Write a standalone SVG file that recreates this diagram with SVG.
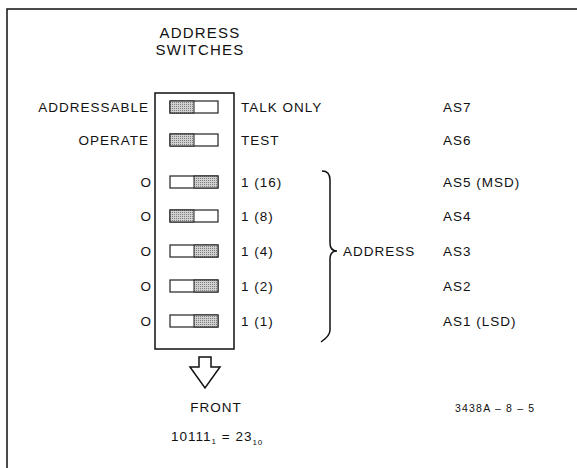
<svg xmlns="http://www.w3.org/2000/svg" width="577" height="468" viewBox="0 0 577 468">
<defs>
<pattern id="dots" width="2" height="2" patternUnits="userSpaceOnUse">
<rect width="2" height="2" fill="#d0d0d0"/>
<rect width="1" height="1" fill="#808080"/>
</pattern>
</defs>
<style>
text{font-family:"Liberation Sans",Arial,sans-serif;font-size:13.5px;fill:#111;letter-spacing:1px}
.title{font-size:15px;letter-spacing:1.2px}
.small{font-size:10.5px;letter-spacing:1.2px}
.sw{fill:#fff;stroke:#222;stroke-width:1.2}
.sh{fill:url(#dots);stroke:#222;stroke-width:1}
.line{fill:none;stroke:#111;stroke-width:1.5}
</style>
<rect width="577" height="468" fill="#fff"/>
<g id="frame"><path class="line" d="M7,468 V9 H577" stroke-width="2"/></g>
<g id="title"><text class="title" x="200" y="38" text-anchor="middle">ADDRESS</text><text class="title" x="200" y="55" text-anchor="middle">SWITCHES</text></g>
<g id="switchbox"><rect class="line" x="155" y="93" width="79" height="256"/></g>
<g id="as7"><rect class="sw" x="170" y="101" width="48" height="12"/><rect class="sh" x="170" y="101" width="24" height="12"/><text x="149" y="112" text-anchor="end">ADDRESSABLE</text><text x="241" y="112">TALK ONLY</text><text x="443" y="112">AS7</text></g>
<g id="as6"><rect class="sw" x="170" y="134" width="48" height="12"/><rect class="sh" x="170" y="134" width="24" height="12"/><text x="149" y="145" text-anchor="end">OPERATE</text><text x="241" y="145">TEST</text><text x="443" y="145">AS6</text></g>
<g id="as5"><rect class="sw" x="170" y="176" width="48" height="12"/><rect class="sh" x="194" y="176" width="24" height="12"/><text x="152" y="187" text-anchor="end">O</text><text x="241" y="187">1 (16)</text><text x="443" y="187">AS5 (MSD)</text></g>
<g id="as4"><rect class="sw" x="170" y="210" width="48" height="12"/><rect class="sh" x="170" y="210" width="24" height="12"/><text x="152" y="221" text-anchor="end">O</text><text x="241" y="221">1 (8)</text><text x="443" y="221">AS4</text></g>
<g id="as3"><rect class="sw" x="170" y="245" width="48" height="12"/><rect class="sh" x="194" y="245" width="24" height="12"/><text x="152" y="256" text-anchor="end">O</text><text x="241" y="256">1 (4)</text><text x="443" y="256">AS3</text></g>
<g id="as2"><rect class="sw" x="170" y="280" width="48" height="12"/><rect class="sh" x="194" y="280" width="24" height="12"/><text x="152" y="291" text-anchor="end">O</text><text x="241" y="291">1 (2)</text><text x="443" y="291">AS2</text></g>
<g id="as1"><rect class="sw" x="170" y="315" width="48" height="12"/><rect class="sh" x="194" y="315" width="24" height="12"/><text x="152" y="326" text-anchor="end">O</text><text x="241" y="326">1 (1)</text><text x="443" y="326">AS1 (LSD)</text></g>
<g id="connectors">
<path class="line" d="M322,171 Q330,171 330,180 V243 Q330,251 337,251 Q330,251 330,259 V330 Q330,336 321,342" stroke-width="1.2"/>
<path class="line" d="M199,357 H211 V367 H220 L205,388 L190,367 H199 Z" stroke-width="1.2"/>
</g>
<g id="address"><text x="343" y="256">ADDRESS</text></g>
<g id="front"><text x="216" y="412" text-anchor="middle">FRONT</text></g>
<g id="formula"><text x="171" y="441" font-size="13" letter-spacing="0">10111<tspan font-size="8" dy="3">1</tspan><tspan dy="-3"> = 23</tspan><tspan font-size="8" dy="4">10</tspan></text></g>
<g id="figno"><text class="small" x="455" y="412">3438A – 8 – 5</text></g>
</svg>
